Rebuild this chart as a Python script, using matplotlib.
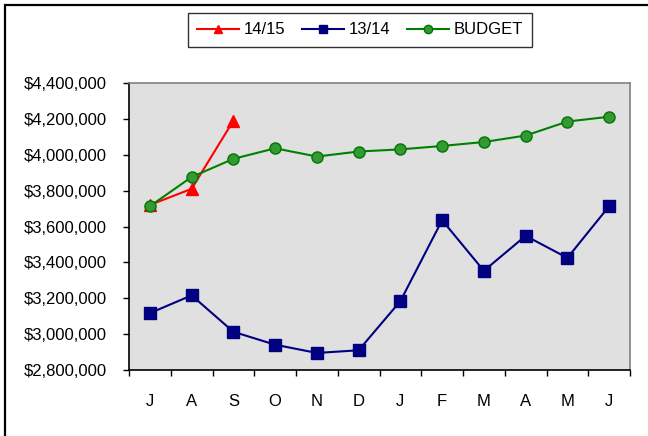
import matplotlib
matplotlib.use("Agg")
import matplotlib.pyplot as plt
from matplotlib.ticker import FuncFormatter, FixedLocator
from matplotlib.patches import Rectangle

plt.rcParams['font.family'] = ['Liberation Sans', 'DejaVu Sans']

months = ["J", "A", "S", "O", "N", "D", "J", "F", "M", "A", "M", "J"]
fy1415 = [3720000, 3810000, 4190000]
fy1314 = [3117000, 3216000, 3013000, 2941000, 2895000, 2910000,
          3184000, 3635000, 3353000, 3548000, 3425000, 3713000]
budget = [3713000, 3876000, 3977000, 4036000, 3990000, 4018000,
          4030000, 4049000, 4071000, 4107000, 4185000, 4212000]
yticks = [2800000, 3000000, 3200000, 3400000, 3600000, 3800000,
          4000000, 4200000, 4400000]

fig = plt.figure(figsize=(6.48, 4.36), dpi=100)
fig.patches.append(Rectangle((5/648, -0.1), 1.2, 1 - 5/436 + 0.1, transform=fig.transFigure,
                             fill=False, edgecolor='black', linewidth=1.6))

ax = fig.add_axes([129/648, 1 - 370/436, 501/648, 287/436])
ax.set_facecolor('#e0e0e0')

x = list(range(len(months)))
l1, = ax.plot(x[:len(fy1415)], fy1415, color='#ff0000', marker='^', markersize=8,
              linewidth=1.5, markerfacecolor='#ff0000', markeredgecolor='#ff0000', zorder=2)
l2, = ax.plot(x, fy1314, color='#000080', marker='s', markersize=8.5,
              linewidth=1.5, markerfacecolor='#000080', markeredgecolor='#000080', zorder=3)
l3, = ax.plot(x, budget, color='#008000', marker='o', markersize=8,
              linewidth=1.5, markerfacecolor='#339933', markeredgecolor='#007700', zorder=4)

ax.set_xlim(-0.5, len(months) - 0.5)
ax.set_ylim(yticks[0], yticks[-1])
ax.set_yticks(yticks)
ax.yaxis.set_major_formatter(FuncFormatter(lambda v, p: "${:,.0f}".format(v)))

ax.xaxis.set_major_locator(FixedLocator([i - 0.5 for i in range(len(months) + 1)]))
ax.xaxis.set_major_formatter(FuncFormatter(lambda v, p: ""))
ax.xaxis.set_minor_locator(FixedLocator(x))
ax.set_xticks(x, months, minor=True)
ax.tick_params(axis='x', which='major', direction='out', length=4, width=1, color='black')
ax.tick_params(axis='x', which='minor', length=0, pad=17, labelsize=12)
ax.tick_params(axis='y', direction='out', length=4, width=1, pad=12, labelsize=12)

for s in ['left', 'bottom']:
    ax.spines[s].set_color('black')
    ax.spines[s].set_linewidth(1.2)
for s in ['top', 'right']:
    ax.spines[s].set_color('#808080')
    ax.spines[s].set_linewidth(1.2)

leg = fig.legend([l1, l2, l3], ["14/15", "13/14", "BUDGET"], ncol=3,
                 loc='center', bbox_to_anchor=(360/648, 1 - 30/436),
                 frameon=True, fancybox=False, edgecolor='black', fontsize=12,
                 handlelength=2.5, handletextpad=0.3, columnspacing=1.0,
                 borderpad=0.55, borderaxespad=0, markerscale=0.75)
leg.get_frame().set_linewidth(1.0)

fig.savefig("out.png", dpi=100)
